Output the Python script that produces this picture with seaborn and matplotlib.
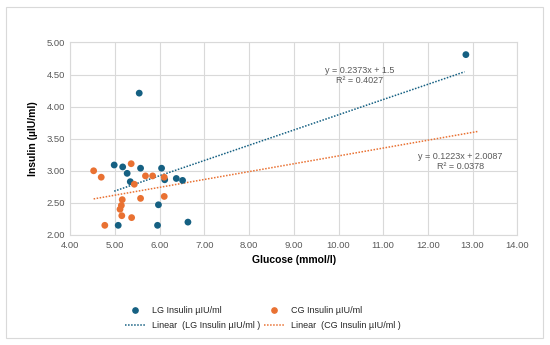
import numpy as np
import pandas as pd
import matplotlib.pyplot as plt
import seaborn as sns
from matplotlib.lines import Line2D
from matplotlib.patches import Rectangle

# LG group (glucose mmol/l, insulin µIU/ml)
lg_glucose = [4.98, 5.17, 5.27, 5.34, 5.57, 5.54, 6.04, 6.11, 6.37, 6.51, 5.97, 5.95, 5.07, 6.63, 12.85]
lg_insulin = [3.09, 3.06, 2.96, 2.83, 3.04, 4.21, 3.04, 2.86, 2.88, 2.85, 2.47, 2.15, 2.15, 2.20, 4.81]

# CG group
cg_glucose = [4.52, 4.69, 4.77, 5.36, 5.43, 5.68, 5.84, 6.10, 6.10, 5.16, 5.14, 5.11, 5.15, 5.37, 5.57]
cg_insulin = [3.00, 2.90, 2.15, 3.11, 2.79, 2.92, 2.92, 2.90, 2.60, 2.55, 2.46, 2.40, 2.30, 2.27, 2.57]

# trendlines (Excel linear fits, as printed on the chart)
lg_trend = {'slope': 0.2373, 'intercept': 1.5, 'x': [4.98, 12.82]}
cg_trend = {'slope': 0.1223, 'intercept': 2.0087, 'x': [4.52, 13.13]}

blue = '#156082'
orange = '#E97132'
grey_txt = '#595959'

sns.set_theme(style='whitegrid')
plt.rcParams['font.family'] = ['Liberation Sans', 'DejaVu Sans']

fig = plt.figure(figsize=(5.5, 3.45), dpi=100)
ax = fig.add_axes([0.128, 0.319, 0.8125, 0.558])

df_lg = pd.DataFrame({'glucose': lg_glucose, 'insulin': lg_insulin})
df_cg = pd.DataFrame({'glucose': cg_glucose, 'insulin': cg_insulin})

sns.scatterplot(data=df_lg, x='glucose', y='insulin', color=blue, s=24,
                edgecolor='none', ax=ax, zorder=3)
sns.scatterplot(data=df_cg, x='glucose', y='insulin', color=orange, s=24,
                edgecolor='none', ax=ax, zorder=3)

for tr, col in [(lg_trend, blue), (cg_trend, orange)]:
    xs = np.array(tr['x'])
    ax.plot(xs, tr['slope'] * xs + tr['intercept'], color=col,
            linestyle=(0, (1, 1)), linewidth=1.1, zorder=2)

ax.text(10.48, 4.48, 'y = 0.2373x + 1.5\nR² = 0.4027', ha='center', va='center',
        fontsize=6.5, color=grey_txt, linespacing=1.1)
ax.text(12.72, 3.14, 'y = 0.1223x + 2.0087\nR² = 0.0378', ha='center', va='center',
        fontsize=6.5, color=grey_txt, linespacing=1.1)

ax.set_xlim(4, 14)
ax.set_ylim(2, 5)
ax.set_xticks(np.arange(4, 14.01, 1))
ax.set_yticks(np.arange(2, 5.01, 0.5))
ax.set_xticklabels([f'{v:.2f}' for v in np.arange(4, 14.01, 1)])
ax.set_yticklabels([f'{v:.2f}' for v in np.arange(2, 5.01, 0.5)])
ax.tick_params(labelsize=6.8, colors=grey_txt, length=0, pad=4)
ax.grid(color='#d9d9d9', linewidth=0.8)
for sp in ax.spines.values():
    sp.set_color('#d9d9d9')
    sp.set_linewidth(0.8)

ax.set_xlabel('Glucose (mmol/l)', fontsize=7.5, fontweight='bold', color='black', labelpad=4)
ax.set_ylabel('Insulin (µIU/ml)', fontsize=7.5, fontweight='bold', color='black', labelpad=6)

handles = [
    Line2D([], [], marker='o', linestyle='none', color=blue, markersize=3.8),
    Line2D([], [], linestyle=(0, (1, 1)), color=blue, linewidth=1.1),
    Line2D([], [], marker='o', linestyle='none', color=orange, markersize=3.8),
    Line2D([], [], linestyle=(0, (1, 1)), color=orange, linewidth=1.1),
]
labels = ['LG Insulin µIU/ml', 'Linear  (LG Insulin µIU/ml )',
          'CG Insulin µIU/ml', 'Linear  (CG Insulin µIU/ml )']
fig.legend(handles, labels, ncol=2, loc='center', bbox_to_anchor=(0.478, 0.078),
           frameon=False, fontsize=6.5, handlelength=2.2, columnspacing=0.4,
           labelspacing=0.65, handletextpad=0.8)

fig.patches.append(Rectangle((0.01, 0.02), 0.978, 0.96, transform=fig.transFigure,
                             fill=False, edgecolor='#d9d9d9', linewidth=0.8))

fig.savefig('out.png', dpi=100)
